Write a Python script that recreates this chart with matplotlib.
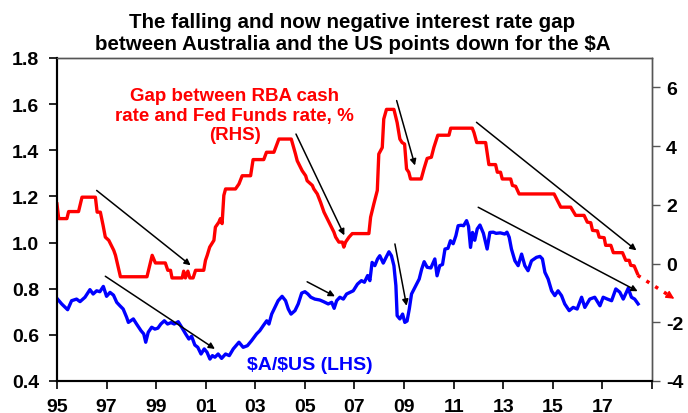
import matplotlib
matplotlib.use("Agg")
import matplotlib.pyplot as plt

plt.rcParams['font.family'] = ['Liberation Sans', 'DejaVu Sans']
plt.rcParams['font.weight'] = 'bold'
plt.rcParams['axes.unicode_minus'] = False

# $A/$US (LHS)
aud_year = [1995.00, 1995.19, 1995.43, 1995.59, 1995.79, 1995.93, 1996.13, 1996.33, 1996.46, 1996.60,
            1996.73, 1996.87, 1997.00, 1997.14, 1997.28, 1997.41, 1997.54, 1997.67, 1997.81, 1997.88,
            1998.08, 1998.21, 1998.39, 1998.50, 1998.58, 1998.68, 1998.82, 1998.95, 1999.07, 1999.19,
            1999.33, 1999.46, 1999.60, 1999.73, 1999.89, 2000.03, 2000.19, 2000.32, 2000.43, 2000.56,
            2000.68, 2000.81, 2000.94, 2001.05, 2001.17, 2001.27, 2001.37, 2001.50, 2001.64, 2001.80,
            2001.95, 2002.11, 2002.34, 2002.51, 2002.68, 2002.85, 2003.05, 2003.18, 2003.32, 2003.46,
            2003.55, 2003.66, 2003.79, 2003.92, 2004.08, 2004.22, 2004.33, 2004.44, 2004.60, 2004.73,
            2004.87, 2005.00, 2005.12, 2005.24, 2005.40, 2005.60, 2005.75, 2005.94, 2006.08, 2006.18,
            2006.28, 2006.41, 2006.55, 2006.68, 2006.82, 2006.95, 2007.12, 2007.28, 2007.40, 2007.53,
            2007.62, 2007.71, 2007.82, 2007.93, 2008.02, 2008.16, 2008.27, 2008.39, 2008.49, 2008.59,
            2008.67, 2008.72, 2008.83, 2008.94, 2009.03, 2009.12, 2009.21, 2009.30, 2009.44, 2009.61,
            2009.71, 2009.81, 2009.93, 2010.08, 2010.24, 2010.33, 2010.44, 2010.55, 2010.65, 2010.77,
            2010.87, 2010.98, 2011.09, 2011.18, 2011.30, 2011.40, 2011.52, 2011.60, 2011.68, 2011.76,
            2011.85, 2011.95, 2012.06, 2012.20, 2012.35, 2012.46, 2012.60, 2012.71, 2012.88, 2013.06,
            2013.15, 2013.24, 2013.33, 2013.47, 2013.60, 2013.74, 2013.87, 2014.00, 2014.14, 2014.34,
            2014.48, 2014.58, 2014.68, 2014.81, 2014.95, 2015.08, 2015.21, 2015.35, 2015.48, 2015.66,
            2015.82, 2015.98, 2016.16, 2016.29, 2016.49, 2016.69, 2016.90, 2017.03, 2017.20, 2017.37,
            2017.54, 2017.70, 2017.84, 2018.04, 2018.17, 2018.30, 2018.44]
aud_usd = [0.758, 0.734, 0.709, 0.748, 0.755, 0.744, 0.763, 0.796, 0.777, 0.791,
           0.787, 0.810, 0.767, 0.784, 0.772, 0.741, 0.726, 0.712, 0.676, 0.654,
           0.669, 0.647, 0.618, 0.604, 0.568, 0.611, 0.633, 0.625, 0.629, 0.647,
           0.661, 0.647, 0.653, 0.647, 0.657, 0.633, 0.604, 0.582, 0.594, 0.556,
           0.546, 0.517, 0.539, 0.525, 0.495, 0.510, 0.503, 0.517, 0.498, 0.517,
           0.510, 0.539, 0.568, 0.546, 0.553, 0.575, 0.604, 0.618, 0.640, 0.661,
           0.647, 0.690, 0.719, 0.748, 0.767, 0.748, 0.712, 0.690, 0.705, 0.734,
           0.781, 0.787, 0.777, 0.763, 0.755, 0.751, 0.744, 0.734, 0.741, 0.715,
           0.748, 0.763, 0.755, 0.777, 0.784, 0.791, 0.820, 0.835, 0.828, 0.857,
           0.835, 0.914, 0.900, 0.929, 0.943, 0.911, 0.935, 0.960, 0.943, 0.900,
           0.813, 0.683, 0.669, 0.690, 0.654, 0.660, 0.712, 0.777, 0.806, 0.842,
           0.885, 0.917, 0.893, 0.890, 0.929, 0.856, 0.900, 0.905, 0.972, 0.975,
           1.008, 0.995, 1.030, 1.073, 1.075, 1.073, 1.095, 1.070, 0.979, 1.044,
           1.010, 1.059, 1.076, 1.040, 0.972, 1.044, 1.045, 1.040, 1.042, 1.037,
           1.045, 1.023, 0.972, 0.921, 0.900, 0.950, 0.900, 0.878, 0.921, 0.936,
           0.940, 0.929, 0.871, 0.842, 0.791, 0.770, 0.791, 0.770, 0.734, 0.705,
           0.719, 0.712, 0.763, 0.719, 0.755, 0.763, 0.726, 0.763, 0.755, 0.748,
           0.799, 0.785, 0.755, 0.802, 0.763, 0.755, 0.734]

# RBA cash rate minus Fed Funds rate, % (RHS)
gap_year = [1995.00, 1995.07, 1995.40, 1995.47, 1995.87, 1996.01, 1996.55, 1996.62, 1996.75, 1996.86,
            1996.95, 1997.09, 1997.29, 1997.36, 1997.42, 1997.56, 1998.63, 1998.84, 1998.97, 1999.37,
            1999.47, 1999.58, 1999.64, 2000.05, 2000.11, 2000.18, 2000.28, 2000.36, 2000.49, 2000.59,
            2000.92, 2000.99, 2001.06, 2001.16, 2001.33, 2001.39, 2001.53, 2001.59, 2001.66, 2001.73,
            2001.80, 2002.20, 2002.34, 2002.47, 2002.81, 2002.91, 2003.34, 2003.45, 2003.75, 2003.95,
            2004.45, 2004.62, 2004.69, 2004.89, 2005.03, 2005.09, 2005.30, 2005.36, 2005.50, 2005.63,
            2005.77, 2005.90, 2006.04, 2006.17, 2006.24, 2006.37, 2006.51, 2006.57, 2006.64, 2006.78,
            2006.91, 2007.58, 2007.65, 2007.78, 2007.92, 2007.98, 2008.12, 2008.18, 2008.29, 2008.59,
            2008.72, 2008.83, 2008.92, 2009.02, 2009.10, 2009.19, 2009.26, 2009.69, 2009.80, 2009.93,
            2010.10, 2010.20, 2010.36, 2010.81, 2010.88, 2011.75, 2011.82, 2011.93, 2012.29, 2012.42,
            2012.69, 2012.76, 2012.89, 2012.96, 2013.30, 2013.37, 2013.50, 2013.64, 2015.05, 2015.18,
            2015.32, 2015.72, 2015.92, 2016.26, 2016.39, 2016.53, 2016.60, 2016.80, 2016.87, 2017.07,
            2017.13, 2017.34, 2017.44, 2017.81, 2017.94, 2018.08, 2018.14, 2018.28, 2018.41]
rate_gap = [2.03, 1.53, 1.53, 1.77, 1.77, 2.26, 2.26, 1.75, 1.75, 1.30,
            0.90, 0.79, 0.45, 0.28, 0.06, -0.45, -0.45, 0.28, 0.02, 0.02,
            -0.23, -0.23, -0.49, -0.49, -0.26, -0.49, -0.26, -0.49, -0.49, -0.23,
            -0.23, 0.11, 0.28, 0.56, 0.79, 1.24, 1.41, 1.53, 1.36, 2.32,
            2.54, 2.54, 2.71, 2.99, 2.99, 3.54, 3.54, 3.79, 3.79, 4.24,
            4.24, 3.73, 3.50, 3.16, 2.99, 2.82, 2.66, 2.54, 2.37, 2.09,
            1.75, 1.53, 1.30, 1.07, 0.90, 0.73, 0.73, 0.56, 0.73, 0.90,
            1.02, 1.02, 1.58, 2.03, 2.49, 3.73, 3.95, 4.92, 5.25, 5.25,
            4.80, 4.24, 4.12, 4.07, 3.22, 3.11, 2.88, 2.88, 3.22, 3.58,
            3.62, 3.95, 4.37, 4.37, 4.61, 4.61, 4.46, 4.12, 4.12, 3.37,
            3.37, 3.11, 3.11, 2.88, 2.88, 2.66, 2.63, 2.37, 2.37, 2.15,
            1.92, 1.92, 1.64, 1.64, 1.41, 1.39, 1.13, 1.11, 0.90, 0.88,
            0.62, 0.62, 0.37, 0.37, 0.11, 0.11, -0.06, -0.08, -0.34]

xticks = list(range(1995, 2020, 2))
xtick_labels = ['95', '97', '99', '01', '03', '05', '07', '09', '11', '13', '15', '17', '']
lhs_ticks = [0.4, 0.6, 0.8, 1.0, 1.2, 1.4, 1.6, 1.8]
rhs_ticks = [-4, -2, 0, 2, 4, 6]

# trend arrows (start, end) in data units
arrows_lhs = [((1996.95, 0.854), (2001.37, 0.539)),
              ((2005.09, 0.830), (2006.21, 0.767)),
              ((2008.63, 0.994), (2009.10, 0.726)),
              ((2011.99, 1.153), (2018.42, 0.789))]
arrows_rhs = [((1996.60, 2.49), (2000.39, -0.06)),
              ((2004.64, 4.41), (2006.59, 0.96)),
              ((2008.70, 5.55), (2009.44, 3.34)),
              ((2011.92, 4.81), (2018.37, 0.45))]
forecast = ((2018.42, -0.40), (2019.90, -1.20))

fig = plt.figure(figsize=(6.88, 4.14), dpi=100)
ax = fig.add_axes([0.0828, 0.0773, 0.8649, 0.7802])
ax2 = ax.twinx()

ax.plot(aud_year, aud_usd, color='#0000FF', lw=2.4, solid_joinstyle='round')
ax2.plot(gap_year, rate_gap, color='#FF0000', lw=2.4, solid_joinstyle='round')

ax.set_xlim(1995, 2019)
ax.set_ylim(0.4, 1.8)
ax2.set_ylim(-4, 7)
ax.set_xticks(xticks)
ax.set_xticklabels(xtick_labels)
ax.set_yticks(lhs_ticks)
ax.set_yticklabels(['%.1f' % v for v in lhs_ticks])
ax2.set_yticks(rhs_ticks)

ax.tick_params(axis='both', labelsize=14, length=6, width=1.2, direction='out')
ax.tick_params(axis='y', pad=7)
ax.tick_params(axis='x', pad=6.5)
ax2.tick_params(axis='y', labelsize=14, length=6, width=1, direction='out', pad=4, color='#555555')
for lab in ax.get_xticklabels() + ax.get_yticklabels() + ax2.get_yticklabels():
    lab.set_fontweight('bold')

for a in (ax, ax2):
    a.spines['left'].set_linewidth(1.5)
    a.spines['bottom'].set_linewidth(1.5)
    a.spines['top'].set_color('#555555')
    a.spines['right'].set_color('#555555')
    a.spines['top'].set_linewidth(1)
    a.spines['right'].set_linewidth(1)

arrow_kw = dict(arrowstyle='-|>', color='black', lw=1.1, mutation_scale=9, shrinkA=0, shrinkB=0)
for start, end in arrows_lhs:
    ax.annotate('', xy=end, xytext=start, arrowprops=arrow_kw)
for start, end in arrows_rhs:
    ax2.annotate('', xy=end, xytext=start, arrowprops=arrow_kw)

(fx0, fy0), (fx1, fy1) = forecast
ax2.plot([fx0, fx1 - 0.15], [fy0, fy1 + 0.08], color='#FF0000', lw=2.5, ls=(0, (1, 2)), clip_on=False)
ax2.annotate('', xy=(fx1, fy1), xytext=(fx1 - 0.2, fy1 + 0.107),
             arrowprops=dict(arrowstyle='-|>', color='#FF0000', lw=1, mutation_scale=12,
                             shrinkA=0, shrinkB=0), annotation_clip=False)

ax.text(0.299, 0.8235, 'Gap between RBA cash\nrate and Fed Funds rate, %\n(RHS)', transform=ax.transAxes,
        ha='center', va='center', color='#FF0000', fontsize=13.5, fontweight='bold', linespacing=1.2)
ax.text(0.425, 0.050, r'\$A/\$US (LHS)', transform=ax.transAxes,
        ha='center', va='center', color='#0000FF', fontsize=14, fontweight='bold')

fig.text(0.512, 0.918, 'The falling and now negative interest rate gap\nbetween Australia and the US points down for the \\$A',
         ha='center', va='center', fontsize=14.8, fontweight='bold', linespacing=1.2)

fig.savefig('out.png', dpi=100)
